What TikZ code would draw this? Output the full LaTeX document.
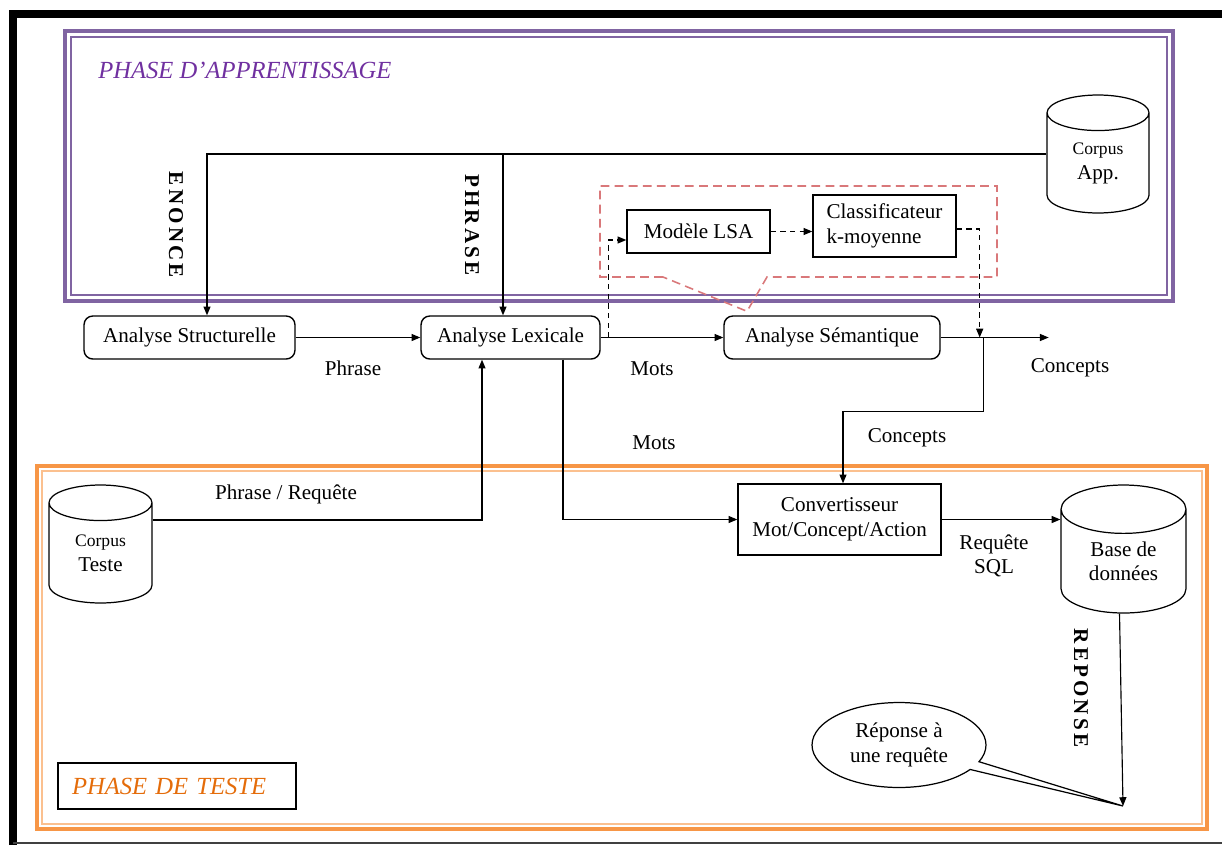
\documentclass[tikz,border=0pt]{standalone}
\usepackage{fontspec}
\setmainfont{Liberation Serif}
\newfontfamily\spacedfont[LetterSpace=15]{Liberation Serif}
\usepackage{xcolor}
\usepackage{tikz}
\usetikzlibrary{positioning, arrows.meta, calc, shapes.geometric, shapes.callouts}
\definecolor{clrPurple}   {HTML}{8064A2}
\definecolor{clrPurpleTxt}{HTML}{7030A0}
\definecolor{clrOrange}   {HTML}{F79646}
\definecolor{clrOrangeLt} {HTML}{FBC08F}
\definecolor{clrOrangeTxt}{HTML}{E46C0A}
\definecolor{clrRed}      {HTML}{D9787A}

\begin{document}
\begin{tikzpicture}[x=0.02cm, y=-0.02cm,
  font=\fontsize{12}{14}\selectfont,
  proc/.style={draw, rounded corners=5pt, line width=0.8pt,
               minimum height=0.86cm, inner sep=0pt, align=center},
  sqbox/.style={draw, line width=0.8pt, inner sep=0pt},
  db/.style={draw, cylinder, shape border rotate=90, aspect=0.7,
             anchor=shape center, line width=0.7pt, inner sep=0pt,
             align=center},
  arr/.style={-{Triangle[length=5pt, width=4pt]}, line width=0.65pt},
  darr/.style={arr, dash pattern=on 3pt off 2.5pt},
  grp/.style={clrRed, line width=0.9pt, dash pattern=on 5pt off 3pt},
  lbl/.style={inner sep=1pt},
  vlbl/.style={rotate=-90, inner sep=0pt,
               font=\spacedfont\fontsize{12}{14}\selectfont\bfseries},
  phase/.style={font=\fontsize{14}{16}\selectfont\itshape},
]
\useasboundingbox (0,0) rectangle (1222,845);
% page frame
\draw[line width=4.5pt] (13,845) -- (13,14) -- (1222,14);
\draw[line width=0.8pt, black!75] (13,843) -- (1222,843);

% learning phase frame
\draw[clrPurple, line width=2.8pt] (65,31) rectangle (1173,301);
\draw[clrPurple, line width=0.7pt] (71,37) rectangle (1167,295);
\node[phase, text=clrPurpleTxt, anchor=west, inner sep=0pt]
  (aphase) at (98,70) {PHASE D’APPRENTISSAGE};

% test phase frame
\draw[clrOrange, line width=2.8pt] (37,466) rectangle (1207,829);
\draw[clrOrangeLt, line width=0.9pt] (42,471) rectangle (1202,824);
\node[phase, draw, line width=0.8pt, text=clrOrangeTxt,
      minimum width=4.76cm, minimum height=0.92cm,
      text width=4.2cm, align=left] (tphase) at (177,786) {PHASE DE TESTE};

% processing chain
\node[proc, minimum width=4.22cm] (struct) at (189.5,337.5) {Analyse Structurelle};
\node[proc, minimum width=3.58cm] (lex) at (510.5,337.5) {Analyse Lexicale};
\node[proc, minimum width=4.32cm] (sem) at (832,337.5) {Analyse Sémantique};
\node[sqbox, minimum width=2.86cm, minimum height=0.86cm]
  (lsa) at (698.5,231.5) {Modèle LSA};
\node[sqbox, minimum width=2.86cm, minimum height=1.24cm, align=left]
  (clf) at (884.5,226) {Classificateur\\k-moyenne};
\node[sqbox, minimum width=4.06cm, minimum height=1.42cm, align=center]
  (conv) at (839.5,519.5) {Convertisseur\\Mot/Concept/Action};

% corpora and database
\node[db, minimum width=2.04cm, minimum height=2.36cm]
  (app) at (1098,154) {{\fontsize{10}{12}\selectfont Corpus}\\App.};
\node[db, minimum width=2.06cm, minimum height=2.36cm]
  (teste) at (100.5,544) {{\fontsize{10}{12}\selectfont Corpus}\\Teste};
\node[db, minimum width=2.5cm, minimum height=2.56cm]
  (bdd) at (1123.5,549) {Base de\\données};

% vertical labels
\node[vlbl] (enonce) at (176,225) {ENONCE};
\node[vlbl] (phr) at (472,225) {PHRASE};
\node[vlbl] (repo) at (1081,688) {REPONSE};

% learning inputs
\coordinate (enoIn) at ($(struct.north)+(17.5,0)$);
\coordinate (phrIn) at ($(lex.north)+(-7.5,0)$);
\coordinate (appOut) at (app.shape center -| app.west);
\draw[arr] (appOut) -| (enoIn);
\draw[arr] (phrIn |- appOut) -- (phrIn);

% main flow
\draw[arr] (struct) -- (lex);
\draw[arr] (lex) -- (sem);
\coordinate (tap) at ($(lex.east)+(8,0)$);
\draw[darr] (tap) |- ($(lsa.west)+(0,8.5)$);
\draw[darr] (lsa.east) -- (lsa.east -| clf.west);
\coordinate (semOut) at ($(sem.east)+(39,0)$);
\draw[darr] ($(clf.east)+(0,3)$) -| (semOut);
\coordinate (cEnd) at ($(sem.east)+(108,0)$);
\draw[arr] (sem.east) -- (cEnd);
\coordinate (junc) at ($(sem.east)+(43,0)$);
\draw[arr] (junc) -- ++(0,74) -| ($(conv.north)+(3.5,0)$);

% test flow
\coordinate (qIn) at ($(lex.south)+(-28.5,0)$);
\draw[arr] ($(teste.shape center -| teste.east)+(0,-24)$) -| (qIn);
\coordinate (motOut) at ($(lex.south)+(52.5,0)$);
\draw[arr] (motOut) |- (conv.west);
\draw[arr] (conv.east) -- (conv.east -| bdd.west);
\coordinate (repTip) at (1123,806);
\draw[arr] ($(bdd.south)+(-4,0)$) -- (repTip);

% answer bubble
\node[ellipse callout, draw, line width=0.7pt, minimum width=3.48cm,
      minimum height=1.7cm, inner sep=0pt, align=center,
      callout absolute pointer={(repTip)}, callout pointer arc=12]
  (rep) at (899,745) {Réponse à\\une requête};

% LSA group
\coordinate (grpTip) at ($(sem.north)+(-85,-4)$);
\draw[grp] (663,277) -- (600,277) -- (600,186) -- (997,186)
  -- (997,277) -- (767,277) -- (grpTip) -- cycle;

% connector labels
\node[lbl] (lPhrase) at (353,368) {Phrase};
\node[lbl] (lMots1) at (652,369) {Mots};
\node[lbl] (lMots2) at (654,443) {Mots};
\node[lbl] (lConc1) at (1070,368) {Concepts};
\node[lbl] (lConc2) at (907,438) {Concepts};
\node[lbl] (lReq) at (286,494) {Phrase / Requête};
\node[lbl, align=center] (lSql) at (994,556) {Requête\\SQL};
\end{tikzpicture}
\end{document}
